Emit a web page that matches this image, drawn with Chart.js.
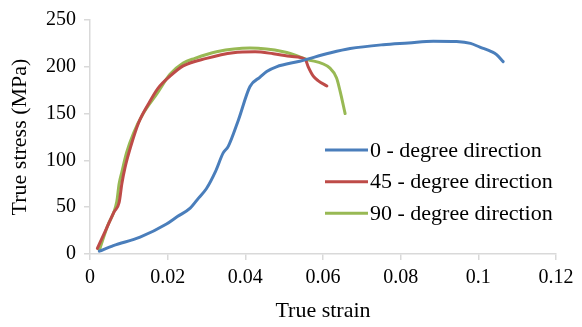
<!DOCTYPE html>
<html>
<head>
<meta charset="utf-8">
<script src="https://cdn.jsdelivr.net/npm/chart.js@4/dist/chart.umd.min.js"></script>
<style>
  html, body { margin: 0; padding: 0; background: #fff; }
  #wrap { width: 582px; height: 327px; }
</style>
</head>
<body>
<div id="wrap"><canvas id="chart"></canvas></div>
<script>
// series labels
const seriesNames = ['0 - degree direction', '45 - degree direction', '90 - degree direction'];

// 0 degree
const strain0 = [0.0024, 0.006, 0.0129, 0.0197, 0.0225, 0.0258, 0.028, 0.030, 0.0323, 0.0343, 0.0356, 0.0382, 0.0412, 0.0438, 0.0455, 0.048, 0.054, 0.062, 0.067, 0.0755, 0.082, 0.0884, 0.0944, 0.098, 0.1004, 0.1035, 0.1047, 0.1064];
const stress0 = [3, 9, 18, 32, 40, 49, 60, 70, 88, 108, 115, 143, 179, 189, 195, 200, 206, 215, 219.5, 223.6, 225.5, 227.4, 227, 225, 221, 216, 213, 205.5];

// 45 degree
const strain45 = [0.0019, 0.004, 0.0062, 0.0075, 0.0082, 0.009, 0.0105, 0.0125, 0.015, 0.0175, 0.0206, 0.024, 0.030, 0.0369, 0.0425, 0.0472, 0.052, 0.0554, 0.0562, 0.0575, 0.0588, 0.061];
const stress45 = [6, 25, 45, 55, 75, 92, 115, 140, 160, 177, 190, 201, 209, 215, 216, 214, 211, 208, 200, 190, 185, 179.5];

// 90 degree
const strain90 = [0.0024, 0.0045, 0.0069, 0.0075, 0.0082, 0.0094, 0.0112, 0.0137, 0.0172, 0.0206, 0.024, 0.027, 0.0326, 0.0412, 0.0498, 0.0558, 0.0618, 0.0635, 0.0644, 0.0657];
const stress90 = [4, 30, 56, 75, 87.5, 108, 129, 150, 171, 192, 204, 209, 216, 220, 216, 208, 198.6, 188, 174, 150];

const colors = ['#4a7ebb', '#be4b48', '#98b954'];

const toPoints = (xs, ys) => xs.map((x, i) => ({ x: x, y: ys[i] }));

const FONT = '"Liberation Serif", "Times New Roman", serif';
const AXIS_GRAY = '#d9d9d9';

// legend drawn inside the plot, Excel style
const legendPlugin = {
  id: 'inlineLegend',
  afterDraw(chart) {
    const ctx = chart.ctx;
    const rows = [150, 181.7, 213.3];
    ctx.save();
    ctx.font = '22px ' + FONT;
    ctx.textBaseline = 'middle';
    ctx.textAlign = 'left';
    chart.data.datasets.forEach((ds, i) => {
      ctx.strokeStyle = ds.borderColor;
      ctx.lineWidth = 3;
      ctx.beginPath();
      ctx.moveTo(325, rows[i]);
      ctx.lineTo(368, rows[i]);
      ctx.stroke();
      ctx.fillStyle = '#000';
      ctx.fillText(ds.label, 370, rows[i] + 1);
    });
    ctx.restore();
  }
};

new Chart(document.getElementById('chart'), {
  type: 'scatter',
  data: {
    datasets: [
      { label: seriesNames[0], data: toPoints(strain0, stress0) },
      { label: seriesNames[1], data: toPoints(strain45, stress45) },
      { label: seriesNames[2], data: toPoints(strain90, stress90) }
    ].map((d, i) => Object.assign(d, {
      showLine: true,
      borderColor: colors[i],
      backgroundColor: colors[i],
      borderWidth: 3,
      pointRadius: 0,
      cubicInterpolationMode: 'monotone',
      borderCapStyle: 'round',
      borderJoinStyle: 'round'
    }))
  },
  options: {
    responsive: true,
    maintainAspectRatio: false,
    animation: false,
    layout: { padding: { top: 14, right: 26, left: 0, bottom: 0 } },
    plugins: {
      legend: { display: false },
      tooltip: { enabled: false }
    },
    scales: {
      x: {
        type: 'linear',
        min: 0,
        max: 0.12,
        ticks: {
          stepSize: 0.02,
          color: '#000',
          font: { family: FONT, size: 20 },
          padding: 6,
          maxRotation: 0,
          callback: v => +v.toFixed(2) + ''
        },
        grid: { drawOnChartArea: false, drawTicks: true, tickLength: 6, color: AXIS_GRAY, lineWidth: 1.5 },
        border: { color: AXIS_GRAY, width: 1.5 },
        title: { display: true, text: 'True strain', color: '#000', font: { family: FONT, size: 22 }, padding: { top: 0, bottom: 3 } },
        afterFit: s => { s.height = 73; }
      },
      y: {
        min: 0,
        max: 250,
        ticks: {
          stepSize: 50,
          color: '#000',
          font: { family: FONT, size: 20 },
          padding: 8
        },
        grid: { drawOnChartArea: false, drawTicks: true, tickLength: 6, color: AXIS_GRAY, lineWidth: 1.5 },
        border: { color: AXIS_GRAY, width: 1.5 },
        title: { display: true, text: 'True stress (MPa)', color: '#000', font: { family: FONT, size: 22 }, padding: { top: 7, bottom: 0 } },
        afterFit: s => { s.width = 90; }
      }
    }
  },
  plugins: [legendPlugin]
});
</script>
</body>
</html>
